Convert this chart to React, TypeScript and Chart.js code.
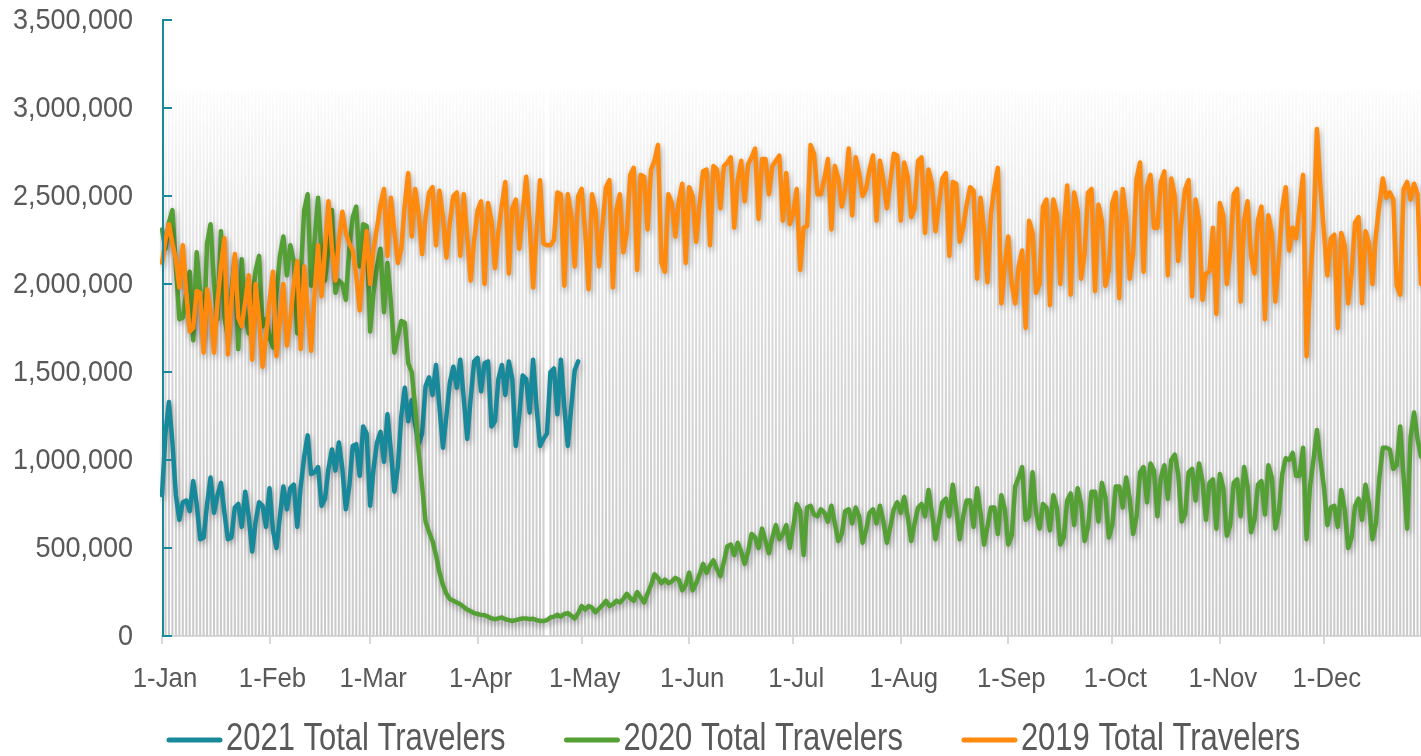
import React, { useEffect, useRef } from "react";
import { Chart, registerables } from "chart.js";

Chart.register(...registerables);

// ---------- axis / label data ----------
const MONTHS = ["Jan", "Feb", "Mar", "Apr", "May", "Jun", "Jul", "Aug", "Sep", "Oct", "Nov", "Dec"];
const MONTH_DAYS = [31, 29, 31, 30, 31, 30, 31, 31, 30, 31, 30, 31];
const Y_TICKS = [0, 500000, 1000000, 1500000, 2000000, 2500000, 3000000, 3500000];
const X_LAST_INDEX = 363;
const BAND_TOP = 3100000;
const BAND_GAP_DAYS = [111];

const SERIES_NAMES = ["2021 Total Travelers", "2020 Total Travelers", "2019 Total Travelers"];
const SERIES_COLORS = ["#18899a", "#55a035", "#ff8a0d"];
const AXIS_TEAL = "#1a8a9a";
const TEXT_COLOR = "#595959";
const FONT_FAMILY = '"Liberation Sans", Arial, Helvetica, sans-serif';

// ---------- series values (thousands of travelers per day) ----------
const T2021 = [
  800, 1150, 1330, 1100, 800, 660, 760, 770, 710, 880,
  750, 550, 560, 750, 900, 700, 800, 870, 700, 550,
  560, 730, 750, 620, 820, 680, 480, 650, 760, 740,
  620, 840, 600, 500, 680, 850, 720, 840, 860, 620,
  850, 1020, 1140, 920, 930, 960, 740, 780, 950, 1060,
  940, 1100, 950, 720, 850, 1080, 1090, 910, 1190, 1150,
  740, 950, 1100, 1160, 990, 1260, 1050, 820, 960, 1250,
  1410, 1220, 1340, 1200, 1090, 1150, 1420, 1470, 1370, 1540,
  1300, 1070, 1250, 1440, 1530, 1410, 1570, 1350, 1120, 1350,
  1560, 1580, 1390, 1550, 1560, 1190, 1220, 1460, 1540, 1370,
  1560, 1460, 1080, 1250, 1480, 1460, 1270, 1570, 1300, 1080,
  1120, 1150, 1500, 1520, 1260, 1570, 1300, 1080, 1300, 1510,
  1560,
];

const T2020 = [
  2310, 2200, 2350, 2420, 2100, 1800, 1810, 1950, 2070, 1680,
  2180, 1960, 1700, 2230, 2340, 2000, 1800, 2300, 1810, 1700,
  1950, 2150, 1630, 2140, 1830, 1720, 1900, 2080, 2160, 1760,
  1800, 1700, 1640, 1950, 2160, 2270, 2050, 2220, 2130, 1720,
  2050, 2420, 2510, 1990, 2250, 2490, 2170, 2020, 2200, 2420,
  1950, 2020, 2000, 1910, 2200, 2380, 2440, 2100, 2340, 2330,
  1730, 1950, 2100, 2200, 1840, 2120, 1900, 1610, 1700, 1790,
  1780, 1550, 1500, 1300, 1050, 850, 650, 590, 540, 460,
  360, 290, 240, 210, 200, 190, 180, 165, 150, 140,
  130, 125, 120, 118, 110, 100, 95, 100, 105, 95,
  90, 85, 90, 95, 100, 100, 95, 98, 90, 85,
  85, 90, 105, 110, 120, 110, 125, 130, 115, 100,
  130, 170, 150, 170, 160, 135, 155, 175, 200, 170,
  180, 200, 190, 210, 240, 215, 200, 250, 220, 190,
  240, 290, 350, 330, 300, 320, 300, 310, 330, 320,
  260, 290, 360, 260, 300, 350, 410, 360, 400, 430,
  380, 340, 420, 510, 520, 460, 530, 480, 410, 480,
  580, 560, 500, 610, 540, 470, 560, 630, 550, 580,
  630, 500, 620, 750, 710, 460, 730, 740, 690, 680,
  720, 700, 650, 740, 640, 540, 580, 710, 720, 640,
  730, 680, 530, 600, 700, 720, 640, 740, 650, 530,
  620, 720, 760, 700, 790, 680, 540, 640, 730, 750,
  680, 830, 700, 550, 650, 760, 780, 680, 860, 720,
  550, 680, 770, 770, 620, 840, 700, 520, 620, 730,
  730, 580, 800, 720, 520, 570, 850, 900, 960, 660,
  680, 930, 700, 610, 750, 730, 600, 800, 730, 520,
  560, 770, 810, 630, 840, 750, 540, 620, 820, 820,
  650, 870, 790, 560, 630, 850, 850, 730, 900, 780,
  580, 680, 930, 960, 760, 980, 940, 680, 900, 970,
  780, 1000, 1030, 920, 650, 690, 930, 950, 770, 980,
  880, 660, 870, 890, 610, 920, 840, 570, 630, 870,
  890, 680, 960, 850, 590, 660, 860, 880, 690, 970,
  900, 610, 700, 920, 1010, 1000, 1040, 910, 910, 1070,
  550, 850, 1000, 1170, 1000, 850, 630, 730, 740, 620,
  830, 720, 500, 560, 740, 780, 660, 860, 750, 550,
  640, 900, 1070, 1070, 1060, 950, 970, 1190, 900, 610,
  1130, 1270, 1120, 1020, 1100, 1050,
];

const T2019 = [
  2120, 2250, 2340, 2230, 2140, 1980, 2220, 1950, 1730, 1750,
  1960, 1950, 1610, 1970, 1850, 1610, 1900, 2100, 2260, 1600,
  1900, 2170, 1810, 1760, 1900, 2050, 1570, 2000, 1800, 1530,
  1700, 1900, 2070, 1590, 1800, 2000, 1650, 1800, 2000, 2130,
  1630, 2100, 1850, 1620, 1950, 2220, 1930, 2200, 2470, 2200,
  2020, 2250, 2410, 2290, 2230, 2190, 2050, 1850, 2100, 2300,
  2000, 2200, 2320, 2450, 2540, 2160, 2490, 2300, 2120, 2200,
  2450, 2630, 2270, 2540, 2400, 2170, 2380, 2520, 2550, 2220,
  2530, 2380, 2150, 2350, 2500, 2520, 2160, 2510, 2270, 2020,
  2250, 2420, 2470, 2000, 2460, 2360, 2090, 2300, 2450, 2580,
  2060, 2430, 2480, 2200, 2400, 2610, 2350, 1980, 2300, 2590,
  2230, 2220, 2220, 2250, 2520, 2510, 1990, 2510, 2390, 2100,
  2500, 2540, 2300, 1970, 2510, 2420, 2100, 2330, 2550, 2590,
  1980, 2420, 2510, 2180, 2290, 2620, 2660, 2080, 2620, 2610,
  2310, 2650, 2700, 2790, 2120, 2070, 2510, 2460, 2270, 2470,
  2570, 2120, 2550, 2500, 2240, 2450, 2640, 2650, 2220, 2670,
  2650, 2430, 2670, 2690, 2720, 2320, 2590, 2700, 2470, 2680,
  2720, 2770, 2370, 2710, 2710, 2510, 2670, 2700, 2730, 2360,
  2630, 2340, 2400, 2540, 2080, 2320, 2330, 2790, 2740, 2510,
  2510, 2600, 2710, 2310, 2670, 2600, 2440, 2540, 2770, 2390,
  2720, 2630, 2500, 2540, 2650, 2730, 2360, 2700, 2590, 2430,
  2580, 2740, 2730, 2360, 2690, 2610, 2380, 2430, 2700, 2720,
  2290, 2650, 2570, 2300, 2450, 2600, 2630, 2160, 2580, 2570,
  2240, 2320, 2450, 2550, 2530, 2030, 2490, 2310, 2010, 2400,
  2550, 2660, 1890, 2100, 2270, 2000, 1890, 2100, 2190, 1750,
  2360, 2290, 1950, 2000, 2440, 2480, 1880, 2480, 2400, 2000,
  2310, 2560, 1940, 2520, 2420, 2030, 2170, 2520, 2540, 1960,
  2450, 2360, 1990, 2080, 2460, 2520, 1920, 2540, 2380, 2030,
  2170, 2600, 2690, 2070, 2550, 2620, 2320, 2320, 2580, 2640,
  2050, 2600, 2500, 2130, 2360, 2540, 2590, 1930, 2480, 2360,
  1910, 2060, 2070, 2320, 1830, 2460, 2390, 2000, 2190, 2510,
  2540, 1900, 2360, 2470, 2160, 2060, 2360, 2440, 1800, 2390,
  2290, 1900, 2140, 2430, 2550, 2190, 2320, 2260, 2440, 2620,
  1590, 2000, 2310, 2880, 2550, 2300, 2050, 2260, 2280, 1750,
  2290, 2220, 1890, 2060, 2350, 2380, 1890, 2300, 2230, 2000,
  2280, 2450, 2600, 2490, 2520, 2480, 1990, 1940, 2540, 2580,
  2480, 2570, 2510, 2000, 1950, 2100,
];

// ---------- derived ----------
const LABELS: string[] = [];
MONTHS.forEach((m, mi) => {
  for (let d = 1; d <= MONTH_DAYS[mi]; d++) LABELS.push(`${d}-${m}`);
});
const isMonthStart = (i: number) => !!LABELS[i] && LABELS[i].startsWith("1-");
const toTravelers = (arr: number[]) => arr.map((v) => v * 1000);
const BAND = LABELS.map((_, i) => (BAND_GAP_DAYS.includes(i) ? null : BAND_TOP));

const shadowPlugin = {
  id: "lineShadow",
  beforeDatasetDraw(chart: any, args: any) {
    const ds = chart.data.datasets[args.index];
    if (ds.type === "bar") return;
    const ctx = chart.ctx;
    ctx.save();
    ctx.shadowColor = "rgba(0,0,0,0.32)";
    ctx.shadowBlur = 6;
    ctx.shadowOffsetX = 1;
    ctx.shadowOffsetY = 3;
  },
  afterDatasetDraw(chart: any, args: any) {
    const ds = chart.data.datasets[args.index];
    if (ds.type === "bar") return;
    chart.ctx.restore();
  },
};

const axisPlugin = {
  id: "tealAxis",
  afterDatasetsDraw(chart: any) {
    const { ctx, chartArea, scales } = chart;
    const y = scales.y;
    const x0 = chartArea.left + 1;
    ctx.save();
    ctx.strokeStyle = AXIS_TEAL;
    ctx.lineWidth = 2;
    ctx.beginPath();
    ctx.moveTo(x0, chartArea.top);
    ctx.lineTo(x0, chartArea.bottom);
    Y_TICKS.forEach((v) => {
      const py = Math.round(y.getPixelForValue(v));
      ctx.moveTo(x0 - 1, py);
      ctx.lineTo(x0 + 9, py);
    });
    ctx.stroke();
    ctx.restore();
  },
};

// draws the tick labels (slightly condensed like the reference) and the legend
const textPlugin = {
  id: "customText",
  afterDraw(chart: any) {
    const ctx = chart.ctx;
    const { scales } = chart;
    ctx.save();
    ctx.fillStyle = TEXT_COLOR;

    // y tick labels
    ctx.font = `30px ${FONT_FAMILY}`;
    ctx.textAlign = "right";
    ctx.textBaseline = "middle";
    Y_TICKS.forEach((v) => {
      const py = scales.y.getPixelForValue(v);
      ctx.save();
      ctx.translate(133, py + 1);
      ctx.scale(0.9, 1);
      ctx.fillText(v.toLocaleString("en-US"), 0, 0);
      ctx.restore();
    });

    // x tick labels
    ctx.font = `28px ${FONT_FAMILY}`;
    ctx.textAlign = "center";
    ctx.textBaseline = "alphabetic";
    LABELS.forEach((lab, i) => {
      if (!isMonthStart(i) || i > X_LAST_INDEX) return;
      const px = scales.x.getPixelForValue(i);
      ctx.save();
      ctx.translate(px + 3, 687);
      ctx.scale(0.92, 1);
      ctx.fillText(lab, 0, 0);
      ctx.restore();
    });

    // legend
    const lineY = 740;
    const baseY = 750;
    const lineLen = 55;
    const scaleX = 0.815;
    ctx.font = `38px ${FONT_FAMILY}`;
    ctx.textAlign = "left";
    let x = 167;
    SERIES_NAMES.forEach((name, i) => {
      ctx.strokeStyle = SERIES_COLORS[i];
      ctx.lineWidth = 5;
      ctx.lineCap = "round";
      ctx.beginPath();
      ctx.moveTo(x + 2, lineY);
      ctx.lineTo(x + lineLen - 2, lineY);
      ctx.stroke();
      const tx = x + lineLen + 4;
      ctx.save();
      ctx.translate(tx, baseY);
      ctx.scale(scaleX, 1);
      ctx.fillText(name, 0, 0);
      ctx.restore();
      const w = ctx.measureText(name).width * scaleX;
      x = tx + w + 59;
    });
    ctx.restore();
  },
};

export default function App() {
  const canvasRef = useRef<HTMLCanvasElement | null>(null);

  useEffect(() => {
    const canvas = canvasRef.current;
    if (!canvas) return;
    let gradCache: any = null;
    let gradKey = "";
    const bandColor = (context: any) => {
      const chart = context.chart;
      const { ctx, chartArea, scales } = chart;
      if (!chartArea || !scales.y) return "#e0e0e0";
      const top = scales.y.getPixelForValue(BAND_TOP);
      const key = `${chartArea.bottom}-${top}`;
      if (gradCache && gradKey === key) return gradCache;
      const g = ctx.createLinearGradient(0, chartArea.bottom, 0, top);
      g.addColorStop(0, "#cacaca");
      g.addColorStop(0.45, "#d5d5d5");
      g.addColorStop(0.75, "#e6e6e6");
      g.addColorStop(1, "#fcfcfc");
      gradCache = g;
      gradKey = key;
      return g;
    };

    const lineBase = {
      borderWidth: 4.5,
      pointRadius: 0,
      tension: 0,
      fill: false,
      borderJoinStyle: "round",
      borderCapStyle: "round",
    };

    const chart = new Chart(canvas, {
      type: "line",
      data: {
        labels: LABELS,
        datasets: [
          {
            ...lineBase,
            label: SERIES_NAMES[0],
            data: toTravelers(T2021),
            borderColor: SERIES_COLORS[0],
            backgroundColor: SERIES_COLORS[0],
            order: 2,
          },
          {
            ...lineBase,
            label: SERIES_NAMES[1],
            data: toTravelers(T2020),
            borderColor: SERIES_COLORS[1],
            backgroundColor: SERIES_COLORS[1],
            order: 1,
          },
          {
            ...lineBase,
            label: SERIES_NAMES[2],
            data: toTravelers(T2019),
            borderColor: SERIES_COLORS[2],
            backgroundColor: SERIES_COLORS[2],
            order: 0,
          },
          {
            type: "bar",
            label: "band",
            data: BAND,
            backgroundColor: bandColor,
            borderWidth: 0,
            barPercentage: 0.6,
            categoryPercentage: 1,
            order: 5,
          },
        ] as any,
      },
      options: {
        animation: false,
        responsive: true,
        maintainAspectRatio: false,
        events: [],
        layout: { padding: { top: 20, left: 0, right: 0, bottom: 0 } },
        plugins: {
          legend: { display: false },
          tooltip: { enabled: false },
        },
        scales: {
          x: {
            type: "category",
            offset: false,
            max: X_LAST_INDEX,
            z: 1,
            afterFit: (s: any) => {
              s.height = 120;
            },
            grid: {
              display: true,
              drawOnChartArea: false,
              drawTicks: true,
              tickLength: 8,
              color: "#d9d9d9",
              lineWidth: 2,
              offset: false,
            },
            border: { display: true, color: "#d9d9d9", width: 2 },
            ticks: {
              autoSkip: false,
              maxRotation: 0,
              minRotation: 0,
              color: "rgba(0,0,0,0)",
              font: { family: FONT_FAMILY, size: 12 },
              callback: (_v: any, index: number) => (isMonthStart(index) ? LABELS[index] : null),
            },
          },
          y: {
            min: 0,
            max: Y_TICKS[Y_TICKS.length - 1],
            afterFit: (s: any) => {
              s.width = 162;
            },
            grid: { display: false, drawTicks: false },
            border: { display: false },
            ticks: { display: false, stepSize: Y_TICKS[1] - Y_TICKS[0] },
          },
        },
      } as any,
      plugins: [shadowPlugin, axisPlugin, textPlugin],
    });

    return () => chart.destroy();
  }, []);

  return (
    <div style={{ position: "absolute", left: 0, top: 0, width: 1421, height: 756, background: "#ffffff" }}>
      <canvas ref={canvasRef} />
    </div>
  );
}
